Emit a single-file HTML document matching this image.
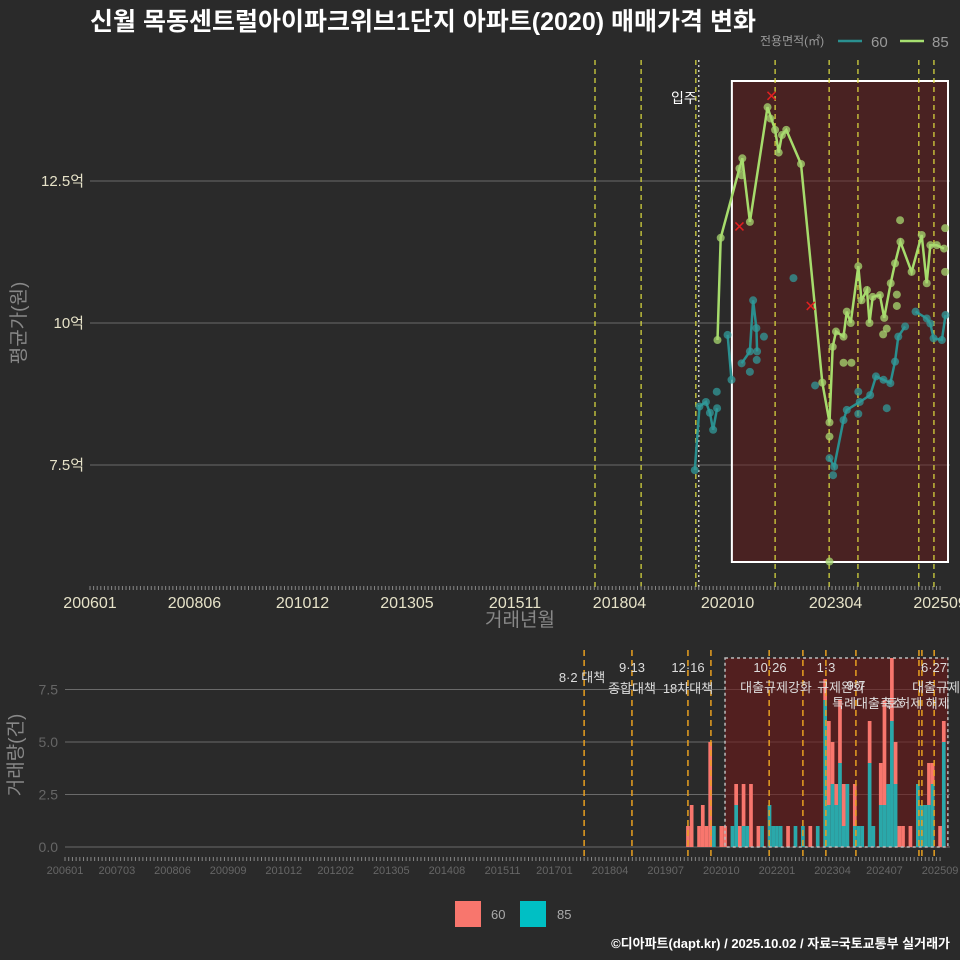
<!DOCTYPE html>
<html><head><meta charset="utf-8">
<style>
html,body{margin:0;padding:0;background:#2a2a2a;}
svg{display:block;font-family:"Liberation Sans","Noto Sans CJK KR",sans-serif;}
</style></head>
<body>
<svg id="c" width="960" height="960" viewBox="0 0 960 960">
<rect width="960" height="960" fill="#2a2a2a"/>
<text x="90" y="30" font-size="25" font-weight="bold" fill="#fff">신월 목동센트럴아이파크위브1단지 아파트(2020) 매매가격 변화</text>
<g>
<text x="760" y="45" font-size="12" fill="#999">전용면적(㎡)</text>
<line x1="838" y1="41" x2="862" y2="41" stroke="#2a9090" stroke-width="2.5"/>
<text x="871" y="47" font-size="15" fill="#999">60</text>
<line x1="900" y1="41" x2="924" y2="41" stroke="#a6e070" stroke-width="2.5"/>
<text x="932" y="47" font-size="15" fill="#999">85</text>
</g>
<g id="top"></g>
<g id="bot"></g>
<g>
<rect x="455" y="901" width="26" height="26" fill="#F8766D"/>
<text x="491" y="919" font-size="13" fill="#aaa">60</text>
<rect x="520" y="901" width="26" height="26" fill="#00BFC4"/>
<text x="557" y="919" font-size="13" fill="#aaa">85</text>
</g>
<text x="950" y="948" font-size="13" font-weight="bold" fill="#fff" text-anchor="end">©디아파트(dapt.kr) / 2025.10.02 / 자료=국토교통부 실거래가</text>
</svg>
<script>
// ---- price chart data (month index from 2006-01, price in 억) ----
const line85Months=[174.2,175.1,180.3,181.1,183.2,188.1,190.2,191.2,192.1,193.3,197.4,203.3,205.3,206.2,207.1,209.2,210.1,211.2,213.3,214.2,215.7,216.4,217.3,219.3,220.5,222.3,223.5,225.0,228.1,230.9,232.3,233.3,235.1,237.1];
const line85Prices=[9.70,11.50,12.72,12.90,11.78,13.80,13.40,13.00,13.31,13.40,12.80,8.95,8.25,9.58,9.85,9.76,10.20,10.0,11.0,10.40,10.58,10.0,10.46,10.49,10.09,10.70,11.05,11.43,10.90,11.55,10.70,11.37,11.37,11.31];
const extra85Months=[205.3,205.3,224.9,237.4,237.4,224.0,224.0,220.2,221.2,209.2,211.4,180.9,188.9];
const extra85Prices=[8.0,5.8,11.81,11.67,10.9,10.5,10.3,9.8,9.9,9.3,9.3,12.6,13.6];
const line60Months=[167.9,169.2,171.0,172.1,173.0,174.1,null,177.0,178.1,null,180.9,183.2,184.1,185.0,185.2,null,205.3,206.6,209.2,210.1,213.7,216.6,218.2,220.3,222.2,223.5,224.4,226.3,null,229.2,232.3,233.3,234.2,236.5,237.5];
const line60Prices=[7.41,8.53,8.61,8.42,8.12,8.50,null,9.79,9.0,null,9.29,9.50,10.40,9.91,9.50,null,7.62,7.47,8.29,8.47,8.61,8.73,9.06,9.00,8.94,9.32,9.76,9.94,null,10.20,10.08,9.99,9.73,9.70,10.14];
const extra60Months=[195.3,201.3,213.3,213.3,221.2,174.0,183.2,185.1,187.1,206.3];
const extra60Prices=[10.79,8.9,8.79,8.40,8.5,8.79,9.14,9.35,9.76,7.32];
const cancelMonths=[180.3,189.2,200.1];
const cancelPrices=[11.7,14.0,10.3];
const yTicks=[7.5,10,12.5];
const yTickLabels=["7.5억","10억","12.5억"];
const xTickMonths=[0,29,59,88,118,147,177,207,236];
const xTickLabels=["200601","200806","201012","201305","201511","201804","202010","202304","202509"];
const topEventMonths=[140.2,153,168.2,190.2,205.2,213.2,230.1,234.3];
const moveInMonth=169;
const highlightRange=[178.2,238.2];
// ---- volume chart data ----
const barMonths=[168,169,171,172,173,174,175,177,178,180,181,182,183,184,185,187,188,190,191,192,193,195,197,199,201,203,205,206,207,208,209,210,211,213,214,215,217,218,220,221,222,223,224,225,226,228,230,231,232,233,234,236,237];
const bar60=[1,2,1,2,1,5,0,1,1,0,1,1,2,0,3,1,0,0,0,0,0,1,0,0,1,0,1,4,2,1,3,2,0,2,0,0,2,0,2,5,0,3,2,1,1,1,0,0,0,2,1,1,1];
const bar85=[0,0,0,0,0,0,1,0,0,1,2,0,1,1,0,0,1,2,1,1,1,0,1,1,0,1,7,2,3,2,4,1,3,1,1,1,4,1,2,2,3,6,3,0,0,0,3,2,2,2,3,0,5];
const botYTicks=[0,2.5,5,7.5];
const botYLabels=["0.0","2.5","5.0","7.5"];
const botXMonths=[0,14,29,44,59,73,88,103,118,132,147,162,177,192,207,221,236];
const botXLabels=["200601","200703","200806","200909","201012","201202","201305","201408","201511","201701","201804","201907","202010","202201","202304","202407","202509"];
const botEventMonths=[140,152.9,168,174.2,189.9,199,205.2,213.3,230.3,231.1,234.4];
const eventLabels=[["8·2 대책",582,682],["9·13",632,672],["종합대책",632,693],["12·16",688,672],["18차대책",688,693],["10·26",770,672],["대출규제강화",776,692],["1·3",826,672],["규제완화",841,692],["9·7",856,690],["특례대출축소",868,708],["토허제 해제",918,708],["6·27",934,672],["대출규제",936,692]];

const NS="http://www.w3.org/2000/svg";
function mk(tag,attrs,parent){const e=document.createElementNS(NS,tag);for(const k in attrs)e.setAttribute(k,attrs[k]);parent.appendChild(e);return e;}
const xT=m=>90+3.602*m, yT=p=>323-(p-10)*56.8;
const xB=m=>65+3.708*m, yB=c=>847-21*c;
const topG=document.getElementById('top'), botG=document.getElementById('bot');

yTicks.forEach((v,i)=>{
 const g=mk('line',{x1:90,x2:950,y1:yT(v),y2:yT(v),stroke:'#6a6a6a','stroke-width':1},topG);
 
 
 const t=mk('text',{x:84,y:yT(v)+5,'font-size':15,fill:'#e6e2c8','text-anchor':'end'},topG);
 t.textContent=yTickLabels[i];
 
 
});
const hb=mk('rect',{x:xT(highlightRange[0]),y:81,width:xT(highlightRange[1])-xT(highlightRange[0]),height:481,fill:'rgba(110,25,25,0.45)',stroke:'#fff','stroke-width':2},topG);


topEventMonths.forEach(m=>{
 const l=mk('line',{x1:xT(m),x2:xT(m),y1:60,y2:590,stroke:'#e0e040','stroke-width':1.2,'stroke-dasharray':'5,4'},topG);
 
 
});
const mv=mk('line',{x1:xT(moveInMonth),x2:xT(moveInMonth),y1:60,y2:590,stroke:'#ccc','stroke-width':1.5,'stroke-dasharray':'2,3'},topG);


const mvt=mk('text',{x:xT(moveInMonth)-2,y:103,'font-size':14,fill:'#fff','text-anchor':'end'},topG);
mvt.textContent='입주';


for(let m=0;m<=236;m++){
 const tk=mk('line',{x1:xT(m),x2:xT(m),y1:586,y2:590,stroke:'#888','stroke-width':1},topG);
 
 
}
xTickMonths.forEach((m,i)=>{
 const t=mk('text',{x:xT(m),y:608,'font-size':16,fill:'#e6e2c8','text-anchor':'middle'},topG);
 t.textContent=xTickLabels[i];
 
 
});
const xt=mk('text',{x:520,y:626,'font-size':19,fill:'#888','text-anchor':'middle'},topG);
xt.textContent='거래년월';


const yt=mk('text',{x:0,y:0,'font-size':19,fill:'#888','text-anchor':'middle',transform:'translate(25,323) rotate(-90)'},topG);
yt.textContent='평균가(원)';



function pathFrom(ms,ps,xs,ys){let d='',pen=false;for(let i=0;i<ms.length;i++){if(ms[i]==null){pen=false;continue;}d+=(pen?'L':'M')+xs(ms[i]).toFixed(1)+','+ys(ps[i]).toFixed(1);pen=true;}return d;}
function dots(ms,ps,col,name){ms.forEach((m,i)=>{if(m==null)return;const c=mk('circle',{cx:xT(m),cy:yT(ps[i]),r:4,fill:col,'fill-opacity':0.75},topG);});}
const p60=mk('path',{d:pathFrom(line60Months,line60Prices,xT,yT),fill:'none',stroke:'#2a8f8f','stroke-width':2.5},topG);


dots(line60Months,line60Prices,'#32999a','point-60');
dots(extra60Months,extra60Prices,'#32999a','point-60');
const p85=mk('path',{d:pathFrom(line85Months,line85Prices,xT,yT),fill:'none',stroke:'#a6dc6c','stroke-width':2.5},topG);


dots(line85Months,line85Prices,'#a8d870','point-85');
dots(extra85Months,extra85Prices,'#a8d870','point-85');
cancelMonths.forEach((m,i)=>{
 const x=xT(m),y=yT(cancelPrices[i]);
 const c=mk('path',{d:`M${x-4},${y-4}L${x+4},${y+4}M${x-4},${y+4}L${x+4},${y-4}`,stroke:'#e02020','stroke-width':1.5},topG);
 
 
});

botYTicks.forEach((v,i)=>{
 const g=mk('line',{x1:65,x2:950,y1:yB(v),y2:yB(v),stroke:'#6a6a6a','stroke-width':1},botG);
 
 
 const t=mk('text',{x:58,y:yB(v)+5,'font-size':14,fill:'#666','text-anchor':'end'},botG);
 t.textContent=botYLabels[i];
 
 
});
const bb=mk('rect',{x:xB(178),y:658,width:xB(238.1)-xB(178),height:189,fill:'rgba(110,25,25,0.6)'},botG);


const bw=3.7;
barMonths.forEach((m,i)=>{
 const x=xB(m)-bw/2;
 if(bar85[i]>0){const r=mk('rect',{x:x,y:yB(bar85[i]),width:bw,height:yB(0)-yB(bar85[i]),fill:'#2aa8aa'},botG);}
 if(bar60[i]>0){const r=mk('rect',{x:x,y:yB(bar85[i]+bar60[i]),width:bw,height:yB(bar85[i])-yB(bar85[i]+bar60[i]),fill:'#F8766D'},botG);}
});
const bo=mk('rect',{x:xB(178),y:658,width:xB(238.1)-xB(178),height:189,fill:'none',stroke:'#bbb','stroke-width':1.5,'stroke-dasharray':'3,3'},botG);


botEventMonths.forEach(m=>{
 const l=mk('line',{x1:xB(m),x2:xB(m),y1:650,y2:860,stroke:'#e8a020','stroke-width':1.5,'stroke-dasharray':'6,4'},botG);
 
 
});
eventLabels.forEach(e=>{
 const t=mk('text',{x:e[1],y:e[2],'font-size':13,fill:'#ddd','text-anchor':'middle'},botG);
 t.textContent=e[0];
 
 
});
for(let m=0;m<=236;m++){
 const tk=mk('line',{x1:xB(m),x2:xB(m),y1:857,y2:861,stroke:'#888','stroke-width':1},botG);
 
 
}
botXMonths.forEach((m,i)=>{
 const t=mk('text',{x:xB(m),y:874,'font-size':11,fill:'#666','text-anchor':'middle'},botG);
 t.textContent=botXLabels[i];
 
 
});
const byt=mk('text',{x:0,y:0,'font-size':19,fill:'#888','text-anchor':'middle',transform:'translate(22,755) rotate(-90)'},botG);
byt.textContent='거래량(건)';


</script>
</body></html>
